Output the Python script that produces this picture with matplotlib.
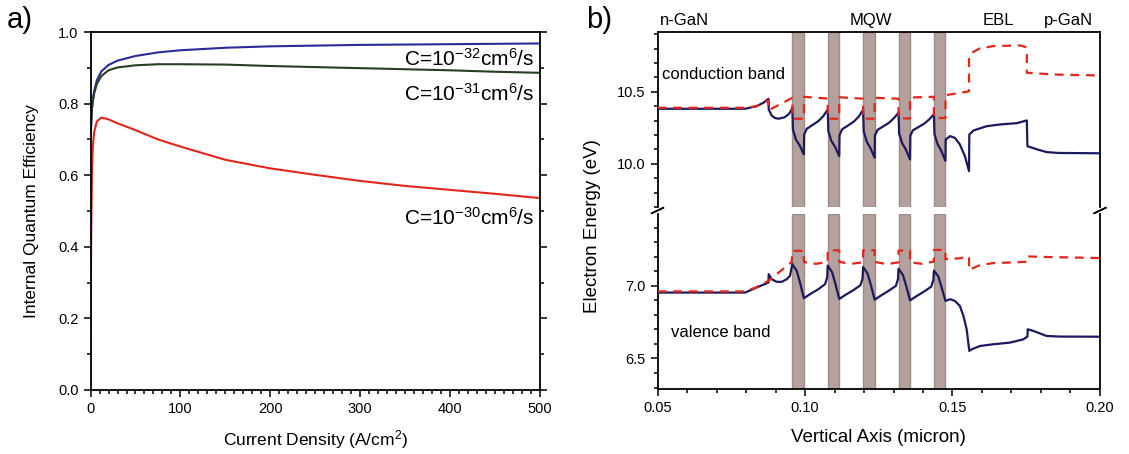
import matplotlib
matplotlib.use('Agg')
import matplotlib.pyplot as plt
from matplotlib.ticker import MultipleLocator
import matplotlib.transforms as mtransforms

plt.rcParams['font.family'] = ['Liberation Sans', 'DejaVu Sans']
plt.rcParams['mathtext.fontset'] = 'custom'
plt.rcParams['mathtext.rm'] = 'Liberation Sans'
plt.rcParams['mathtext.it'] = 'Liberation Sans:italic'
plt.rcParams['mathtext.default'] = 'regular'

# ---- panel a: IQE vs current density ----
current = [0, 0.8, 1.5, 2.5, 4, 7, 12, 20, 30, 50, 75, 100, 150, 200, 250, 300, 350, 400, 450, 500]
iqe_c32 = [0.70, 0.75, 0.785, 0.81, 0.835, 0.865, 0.890, 0.908, 0.920, 0.933, 0.943, 0.949,
           0.956, 0.960, 0.962, 0.964, 0.965, 0.966, 0.967, 0.968]
iqe_c31 = [0.70, 0.75, 0.785, 0.805, 0.828, 0.855, 0.877, 0.893, 0.901, 0.907, 0.910, 0.910,
           0.909, 0.905, 0.902, 0.899, 0.896, 0.893, 0.889, 0.886]
iqe_c30 = [0.17, 0.45, 0.60, 0.68, 0.72, 0.750, 0.761, 0.756, 0.745, 0.726, 0.700, 0.680,
           0.643, 0.619, 0.601, 0.584, 0.570, 0.559, 0.548, 0.536]
labels_a = [r'C=10$^{-32}$cm$^6$/s', r'C=10$^{-31}$cm$^6$/s', r'C=10$^{-30}$cm$^6$/s']
label_y = [0.926, 0.828, 0.480]

# ---- panel b: band diagram ----
wells = [0.0957, 0.1077, 0.1197, 0.1317, 0.1437]
well_w = 0.0039

x_cb = [0.050, 0.0797, 0.0836, 0.0859, 0.0876, 0.0877, 0.0887, 0.0898, 0.0910, 0.0930, 0.0945, 0.0955,
        0.0957, 0.0959, 0.0969, 0.0982, 0.0996,
        0.0997, 0.1006, 0.1023, 0.1045, 0.1062, 0.1077,
        0.1079, 0.1089, 0.1102, 0.1116,
        0.1117, 0.1126, 0.1143, 0.1165, 0.1182, 0.1197,
        0.1199, 0.1209, 0.1222, 0.1236,
        0.1237, 0.1246, 0.1263, 0.1285, 0.1302, 0.1317,
        0.1319, 0.1329, 0.1342, 0.1356,
        0.1357, 0.1366, 0.1383, 0.1405, 0.1422, 0.1437,
        0.1439, 0.1449, 0.1462, 0.1476,
        0.1477, 0.1492, 0.1508, 0.1525, 0.1542, 0.1556,
        0.1557, 0.1571, 0.1616, 0.1661, 0.1718, 0.1752,
        0.1754, 0.1790, 0.1819, 0.1860, 0.2000]
y_cb = [10.382, 10.382, 10.400, 10.424, 10.451, 10.377, 10.335, 10.318, 10.313, 10.322, 10.345, 10.377,
        10.390, 10.238, 10.169, 10.127, 10.065,
        10.203, 10.243, 10.266, 10.296, 10.331, 10.377,
        10.228, 10.160, 10.117, 10.053,
        10.200, 10.240, 10.262, 10.292, 10.327, 10.375,
        10.225, 10.155, 10.108, 10.042,
        10.196, 10.236, 10.257, 10.285, 10.318, 10.355,
        10.212, 10.145, 10.098, 10.030,
        10.195, 10.233, 10.253, 10.280, 10.310, 10.345,
        10.205, 10.138, 10.090, 10.020,
        10.169, 10.192, 10.180, 10.134, 10.053, 9.949,
        10.203, 10.231, 10.261, 10.273, 10.282, 10.301,
        10.122, 10.098, 10.081, 10.075, 10.073]

x_cf = [0.050, 0.0797, 0.0836, 0.0859, 0.0876, 0.0877, 0.0957,
        0.0957, 0.0996, 0.0996, 0.1077,
        0.1077, 0.1116, 0.1116, 0.1197,
        0.1197, 0.1236, 0.1236, 0.1317,
        0.1317, 0.1356, 0.1356, 0.1437,
        0.1437, 0.1476, 0.1476, 0.1548, 0.1556,
        0.1556, 0.1565, 0.1593, 0.1638, 0.1729, 0.1749, 0.1752,
        0.1752, 0.1842, 0.2000]
y_cf = [10.389, 10.389, 10.400, 10.424, 10.440, 10.372, 10.458,
        10.313, 10.313, 10.465, 10.453,
        10.313, 10.313, 10.462, 10.452,
        10.313, 10.313, 10.458, 10.452,
        10.315, 10.315, 10.460, 10.465,
        10.318, 10.318, 10.476, 10.500, 10.504,
        10.736, 10.771, 10.801, 10.817, 10.822, 10.810, 10.782,
        10.632, 10.620, 10.613]

x_vb = [0.050, 0.0797, 0.0836, 0.0876, 0.0877, 0.0887, 0.0904, 0.0921, 0.0938, 0.0949, 0.0957,
        0.0972, 0.0983, 0.0996,
        0.1017, 0.1045, 0.1068, 0.1075, 0.1077,
        0.1092, 0.1103, 0.1116,
        0.1137, 0.1165, 0.1188, 0.1195, 0.1197,
        0.1212, 0.1223, 0.1236,
        0.1257, 0.1285, 0.1308, 0.1315, 0.1317,
        0.1332, 0.1343, 0.1356,
        0.1377, 0.1405, 0.1428, 0.1435, 0.1437,
        0.1452, 0.1463, 0.1476,
        0.1492, 0.1508, 0.1525, 0.1537, 0.1548, 0.1557,
        0.1565, 0.1593, 0.1638, 0.1694, 0.1740, 0.1754,
        0.1755, 0.1774, 0.1819, 0.1864, 0.2000]
y_vb = [6.954, 6.954, 6.989, 7.023, 7.081, 7.046, 7.028, 7.028, 7.046, 7.069, 7.150,
        7.103, 7.023, 6.915,
        6.943, 6.977, 7.012, 7.058, 7.140,
        7.093, 7.015, 6.910,
        6.938, 6.972, 7.005, 7.050, 7.130,
        7.085, 7.008, 6.905,
        6.933, 6.968, 7.000, 7.045, 7.118,
        7.075, 7.000, 6.900,
        6.928, 6.963, 6.995, 7.040, 7.105,
        7.065, 6.990, 6.897,
        6.908, 6.897, 6.862, 6.793, 6.701, 6.552,
        6.563, 6.586, 6.598, 6.609, 6.632, 6.651,
        6.701, 6.690, 6.655, 6.651, 6.650]

x_vf = [0.050, 0.0797, 0.0836, 0.0876, 0.0955,
        0.0957, 0.0996, 0.0996, 0.1037, 0.1077,
        0.1077, 0.1116, 0.1116, 0.1157, 0.1197,
        0.1197, 0.1236, 0.1236, 0.1277, 0.1317,
        0.1317, 0.1356, 0.1356, 0.1397, 0.1437,
        0.1437, 0.1476, 0.1476, 0.1525, 0.1556,
        0.1556, 0.1593, 0.1638, 0.1694, 0.1752,
        0.1754, 0.1819, 0.2000]
y_vf = [6.962, 6.962, 6.992, 7.035, 7.165,
        7.241, 7.241, 7.165, 7.152, 7.165,
        7.245, 7.245, 7.165, 7.152, 7.163,
        7.245, 7.245, 7.165, 7.150, 7.162,
        7.243, 7.243, 7.162, 7.152, 7.168,
        7.248, 7.248, 7.184, 7.190, 7.203,
        7.110, 7.143, 7.157, 7.161, 7.166,
        7.203, 7.199, 7.192]

regions = ['n-GaN', 'MQW', 'EBL', 'p-GaN']
region_x = [0.0592, 0.1222, 0.1657, 0.1893]

navy = '#1c1a5e'
red = '#e2261b'
well_face = '#b3a19d'
well_edge = '#9f8b87'

fig = plt.figure(figsize=(11.29, 4.54), dpi=100)

# panel a
ax = fig.add_axes([0.0802, 0.141, 0.3981, 0.7885])
ax.plot(current, iqe_c32, color='#2a2a9a', lw=1.5)
ax.plot(current, iqe_c31, color='#263f22', lw=1.5)
ax.plot(current, iqe_c30, color=red, lw=1.5)
for lab, yy in zip(labels_a, label_y):
    ax.text(494, yy, lab, fontsize=15, ha='right', va='center')
ax.set_xlim(0, 500)
ax.set_ylim(0, 1.0)
ax.xaxis.set_major_locator(MultipleLocator(100))
ax.xaxis.set_minor_locator(MultipleLocator(10))
ax.yaxis.set_major_locator(MultipleLocator(0.2))
ax.yaxis.set_minor_locator(MultipleLocator(0.1))
ax.yaxis.set_major_formatter(plt.FuncFormatter(lambda v, p: f'{v:.1f}'))
ax.tick_params(which='both', direction='out', width=1.1, labelsize=10.5, right=True)
ax.tick_params(which='major', length=5)
ax.tick_params(which='minor', length=3)
for s in ax.spines.values():
    s.set_linewidth(1.3)
ax.set_xlabel('Current Density (A/cm$^2$)', fontsize=12.5, labelpad=9)
ax.set_ylabel('Internal Quantum Efficiency', fontsize=12.5, labelpad=14)
fig.text(0.006, 0.955, 'a)', fontsize=21, va='center', ha='left', fontweight='light')

# panel b: broken y axis
axu = fig.add_axes([0.5824, 0.5441, 0.3919, 0.3854])
axl = fig.add_axes([0.5824, 0.1432, 0.3919, 0.3854], sharex=axu)
for a in (axu, axl):
    for w in wells:
        a.axvspan(w, w + well_w, facecolor=well_face, edgecolor=well_edge, lw=1, zorder=1)
    a.tick_params(which='both', direction='out', width=1.1, labelsize=10.5)
    a.tick_params(which='major', length=5)
    a.tick_params(which='minor', length=3)
    a.yaxis.set_major_locator(MultipleLocator(0.5))
    a.yaxis.set_minor_locator(MultipleLocator(0.1))
    for s in a.spines.values():
        s.set_linewidth(1.3)

axu.plot(x_cb, y_cb, color=navy, lw=1.6, zorder=3)
axu.plot(x_cf, y_cf, color=red, lw=1.6, dashes=(4, 3), zorder=3)
axl.plot(x_vb, y_vb, color=navy, lw=1.6, zorder=3)
axl.plot(x_vf, y_vf, color=red, lw=1.6, dashes=(4, 3), zorder=3)

axu.set_ylim(9.70, 10.915)
axl.set_ylim(6.29, 7.495)
axl.set_xlim(0.05, 0.20)
axl.xaxis.set_major_locator(MultipleLocator(0.05))
axl.xaxis.set_minor_locator(MultipleLocator(0.01))
axl.xaxis.set_major_formatter(plt.FuncFormatter(lambda v, p: f'{v:.2f}'))
axu.yaxis.set_major_formatter(plt.FuncFormatter(lambda v, p: f'{v:.1f}'))
axl.yaxis.set_major_formatter(plt.FuncFormatter(lambda v, p: f'{v:.1f}'))
axu.spines['bottom'].set_visible(False)
axl.spines['top'].set_visible(False)
axu.tick_params(axis='x', which='both', bottom=False, labelbottom=False)

# break marks
d = 0.013
kw = dict(color='k', lw=1.2, clip_on=False)
for xx in (0, 1):
    axu.plot([xx - d, xx + d], [-0.02 - d * 1.2, -0.02 + d * 1.2], transform=axu.transAxes, **kw)
    axl.plot([xx - d, xx + d], [1.02 - d * 1.2, 1.02 + d * 1.2], transform=axl.transAxes, **kw)

axu.text(0.0514, 10.622, 'conduction band', fontsize=12, ha='left', va='center')
axl.text(0.0544, 6.679, 'valence band', fontsize=12, ha='left', va='center')
trans = mtransforms.blended_transform_factory(axu.transData, axu.transAxes)
for name, xx in zip(regions, region_x):
    axu.text(xx, 1.063, name, fontsize=12, ha='center', va='center', transform=trans)

axl.set_xlabel('Vertical Axis (micron)', fontsize=13.5, labelpad=10)
fig.text(0.525, 0.502, 'Electron Energy (eV)', fontsize=13.5, rotation=90, ha='center', va='center')
fig.text(0.519, 0.955, 'b)', fontsize=21, va='center', ha='left', fontweight='light')

fig.savefig('out.png', dpi=100)
